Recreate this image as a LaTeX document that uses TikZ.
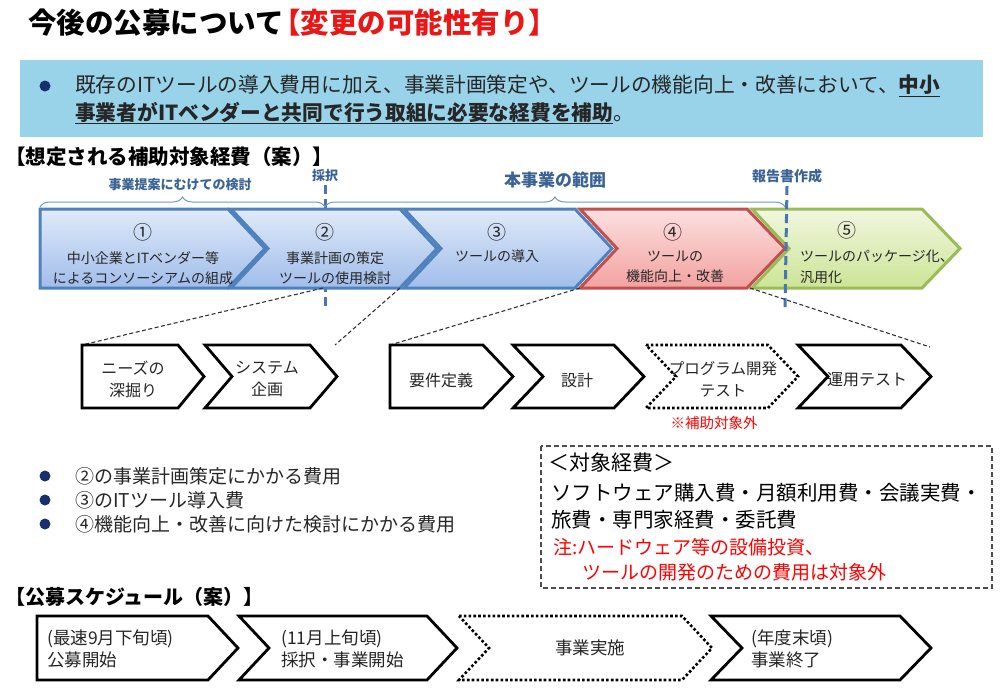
\documentclass[tikz,border=0pt]{standalone}
\usepackage{fontspec}
\setmainfont{Noto Sans CJK JP}
\usetikzlibrary{decorations.pathreplacing}

\definecolor{bandblue}{RGB}{152,211,234}
\definecolor{dotnavy}{RGB}{24,46,110}
\definecolor{titlered}{RGB}{235,22,22}
\definecolor{bracetext}{RGB}{58,98,148}
\definecolor{braceline}{RGB}{110,150,200}
\definecolor{markline}{RGB}{72,118,176}
\definecolor{blueedge}{RGB}{79,129,189}
\definecolor{bluetop}{RGB}{224,234,249}
\definecolor{bluebot}{RGB}{160,189,234}
\definecolor{rededge}{RGB}{192,80,77}
\definecolor{redtop}{RGB}{252,224,224}
\definecolor{redbot}{RGB}{242,162,160}
\definecolor{greenedge}{RGB}{155,187,89}
\definecolor{greentop}{RGB}{240,247,224}
\definecolor{greenbot}{RGB}{204,228,150}
\definecolor{bodytext}{RGB}{38,38,38}

\newcommand{\fsz}[1]{\fontsize{#1}{#1}\selectfont}

\begin{document}
\begin{tikzpicture}[x=1pt, y=-1pt,
    phase/.style={line width=3pt, line join=miter},
    bluephase/.style={phase, draw=blueedge, top color=bluetop, bottom color=bluebot},
    redphase/.style={phase, draw=rededge, top color=redtop, bottom color=redbot},
    greenphase/.style={phase, draw=greenedge, top color=greentop, bottom color=greenbot},
    stepbox/.style={draw=black, line width=2.8pt, fill=white, line join=miter},
    dotbox/.style={draw=black, line width=2.6pt, dash pattern=on 2.6pt off 2.2pt},
    phasenum/.style={font=\fsz{19}, inner sep=0pt, text=bodytext},
    phasetext/.style={font=\fontsize{14}{20.5}\selectfont, align=center, inner sep=0pt, text=bodytext},
    subtext/.style={font=\fontsize{16}{22}\selectfont, align=center, inner sep=0pt, text=bodytext},
    plantext/.style={font=\fontsize{17.5}{22}\selectfont, align=left, anchor=west, inner sep=0pt, text=bodytext},
    bracelabel/.style={text=bracetext, inner sep=0pt},
    zoomline/.style={draw=black!80, line width=1.1pt, dash pattern=on 4pt off 2.5pt},
    milestone/.style={draw=markline, line width=3pt, dash pattern=on 9pt off 5pt},
    bulletdot/.style={circle, fill=dotnavy, inner sep=0pt, minimum size=11pt}]
\useasboundingbox (0,0) rectangle (1000,688);

% title and summary band
\node[anchor=west, inner sep=0pt, font=\bfseries\fsz{28.5}] (title) at (28,23)
    {今後の公募について\hspace{-0.4em}\textcolor{titlered}{【変更の可能性有り】}};
\fill[bandblue] (20,60) rectangle (983,137);
\node[bulletdot] (b0) at (45,86) {};
\node[anchor=west, inner sep=0pt, font=\fsz{20.7}, text=bodytext] (band1) at (75,86)
    {既存のITツールの導入費用に加え、事業計画策定や、ツールの機能向上・改善において、\textbf{\underline{中小}}};
\node[anchor=west, inner sep=0pt, font=\fsz{20.7}, text=bodytext] (band2) at (75,113)
    {\textbf{\underline{事業者がITベンダーと共同で行う取組に必要な経費を補助}}。};

\node[anchor=west, inner sep=0pt, font=\bfseries\fsz{20.5}] (head1) at (5,157) {【想定される補助対象経費（案）】};

% braces and milestones
\node[bracelabel, font=\bfseries\fsz{13}] (prep) at (180,185) {事業提案にむけての検討};
\node[bracelabel, font=\bfseries\fsz{13}] (adopt) at (325,176) {採択};
\node[bracelabel, font=\bfseries\fsz{17}] (scope) at (555,180) {本事業の範囲};
\node[bracelabel, font=\bfseries\fsz{14}] (report) at (787,176) {報告書作成};
\coordinate (adoptend) at (325,308);
\coordinate (reportend) at (785,308);
\draw[milestone] (adopt.south) ++(0,3) -- (adoptend);
\draw[braceline, line width=1pt, decorate, decoration={brace, amplitude=10pt}] (40,207) -- (325,207);
\draw[braceline, line width=1pt, decorate, decoration={brace, amplitude=10pt}] (325,207) -- (785,207);

% phases
\foreach \l/\r/\n in {40/228/0, 231/400/1, 404/575/1}
  \draw[bluephase] (\l,209) -- (\r,209) -- (\r+37,248.5) -- (\r,288) -- (\l,288) -- (\l+37*\n,248.5) -- cycle;
\draw[redphase] (580,209) -- (747,209) -- (785,248.5) -- (747,288) -- (580,288) -- (617,248.5) -- cycle;
\draw[greenphase] (752,209) -- (922,209) -- (960,248.5) -- (922,288) -- (752,288) -- (789,248.5) -- cycle;

\node[phasenum] (num1) at (143,232) {①};
\node[phasetext] (txt1) at (143,268) {中小企業とITベンダー等\\によるコンソーシアムの組成};
\node[phasenum] (num2) at (325,232) {②};
\node[phasetext] (txt2) at (335,268) {事業計画の策定\\ツールの使用検討};
\node[phasenum] (num3) at (497,232) {③};
\node[phasetext] (txt3) at (497,256) {ツールの導入};
\node[phasenum] (num4) at (673,232) {④};
\node[phasetext] (txt4) at (675,267) {ツールの\\機能向上・改善};
\node[phasenum] (num5) at (847,230) {⑤};
\node[phasetext, align=left, anchor=west] (txt5) at (800,267) {ツールのパッケージ化、\\汎用化};

\draw[milestone] (report.south) ++(0,3) -- (reportend);

% detail steps
\coordinate (cut2a) at (323,288);
\coordinate (cut2b) at (400,288);
\coordinate (cut4a) at (580,288);
\coordinate (cut4b) at (750,288);
\coordinate (need0) at (82,345);
\coordinate (plan0) at (335,345);
\coordinate (req0) at (390,345);
\coordinate (test0) at (930,347);
\draw[zoomline] (cut2a) -- (need0);
\draw[zoomline] (cut2b) -- (plan0);
\draw[zoomline] (cut4a) -- (req0);
\draw[zoomline] (cut4b) -- (test0);

\foreach \l/\r/\t/\n in {82/178/204/0, 205/310/337/1, 390/483/513/0, 513/614/644/1, 798/901/931/1}
  \draw[stepbox] (\l,345) -- (\r,345) -- (\t,376.5) -- (\r,408) -- (\l,408) -- (\l+\n*\t-\n*\r,376.5) -- cycle;
\draw[dotbox] (646,345) -- (768,345) -- (798,376.5) -- (768,408) -- (646,408) -- (676,376.5) -- cycle;

\node[subtext] (need) at (133,379) {ニーズの\\深掘り};
\node[subtext] (plan) at (267,379) {システム\\企画};
\node[subtext] (req) at (441,380) {要件定義};
\node[subtext] (design) at (577,380) {設計};
\node[subtext, font=\fontsize{15.5}{22}\selectfont] (prog) at (723,379) {プログラム開発\\テスト};
\node[subtext] (optest) at (867,380) {運用テスト};
\node[inner sep=0pt, text=red, font=\fsz{14.5}] (exclnote) at (714,423) {※補助対象外};

% covered costs
\node[bulletdot] (b1) at (45,476) {};
\node[bulletdot] (b2) at (45,500) {};
\node[bulletdot] (b3) at (45,524) {};
\node[anchor=west, inner sep=0pt, font=\fsz{19}, text=bodytext] (cost1) at (75,476) {②の事業計画策定にかかる費用};
\node[anchor=west, inner sep=0pt, font=\fsz{19}, text=bodytext] (cost2) at (75,500) {③のITツール導入費};
\node[anchor=west, inner sep=0pt, font=\fsz{19}, text=bodytext] (cost3) at (75,524) {④機能向上・改善に向けた検討にかかる費用};

\draw[black!70, line width=1.2pt, dash pattern=on 5pt off 3pt] (541,446) rectangle (992,588);
\node[anchor=west, inner sep=0pt, font=\fsz{21}] (kind) at (548,463) {＜対象経費＞};
\node[anchor=west, inner sep=0pt, font=\fsz{20.5}] (kind1) at (551,493) {ソフトウェア購入費・月額利用費・会議実費・};
\node[anchor=west, inner sep=0pt, font=\fsz{20.5}] (kind2) at (551,520) {旅費・専門家経費・委託費};
\node[anchor=west, inner sep=0pt, font=\fsz{19}, text=red] (note1) at (553,547) {注:ハードウェア等の設備投資、};
\node[anchor=west, inner sep=0pt, font=\fsz{19}, text=red] (note2) at (582,572) {ツールの開発のための費用は対象外};

% schedule
\node[anchor=west, inner sep=0pt, font=\bfseries\fsz{20}] (head2) at (5,597) {【公募スケジュール（案）】};
\foreach \l/\r/\t/\n in {37/208/238/0, 239/427/457/1, 711/900/931/1}
  \draw[stepbox] (\l,616) -- (\r,616) -- (\t,648) -- (\r,680) -- (\l,680) -- (\l+\n*\t-\n*\r,648) -- cycle;
\draw[dotbox] (459,616) -- (682,616) -- (712,648) -- (682,680) -- (459,680) -- (489,648) -- cycle;

\node[plantext] (open) at (47,649) {(最速9月下旬頃)\\公募開始};
\node[plantext] (start) at (281,649) {(11月上旬頃)\\採択・事業開始};
\node[plantext, anchor=center, align=center] (run) at (590,648) {事業実施};
\node[plantext] (close) at (751,649) {(年度末頃)\\事業終了};
\end{tikzpicture}
\end{document}
